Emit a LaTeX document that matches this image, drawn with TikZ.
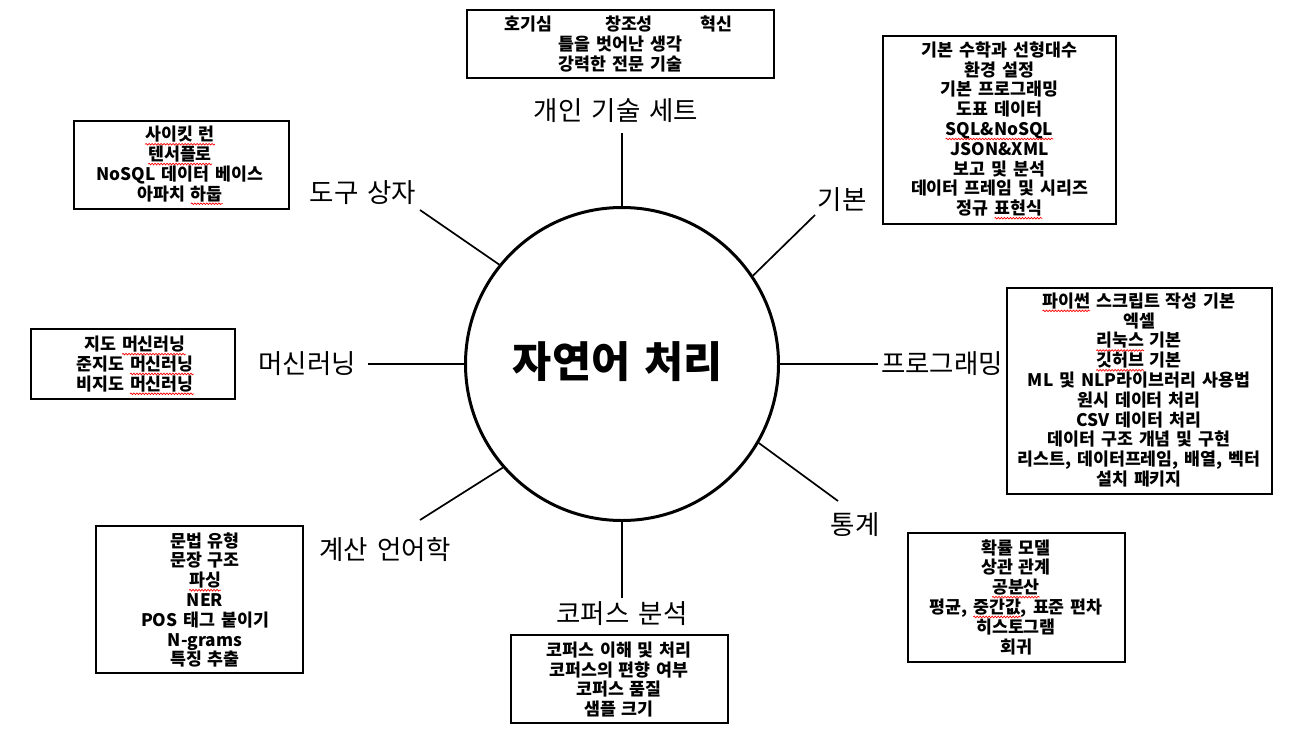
\documentclass[tikz,border=0pt]{standalone}
\usepackage{fontspec}
\setmainfont[WordSpace=1.5]{Noto Sans CJK KR}
\usetikzlibrary{decorations.pathmorphing}
\newcommand\sq[1]{\tikz[baseline=(w.base),x=1pt,y=1pt]{\node[inner sep=0pt,outer sep=0pt,align=left] (w) {#1};
  \draw[overlay, red, line width=0.7pt, decorate, decoration={snake, amplitude=0.8pt, segment length=3pt}] ([yshift=-3.5pt]w.base west) -- ([yshift=-3.5pt]w.base east);}}
\tikzset{
  box/.style={draw, line width=1.2pt, inner sep=0pt},
  btext/.style={font=\fontsize{17.3}{19.8}\selectfont\bfseries, align=center, inner sep=0pt},
  lbl/.style={font=\fontsize{26.5}{30}\selectfont, inner sep=0pt},
  spoke/.style={line width=1.7pt},
}
\begin{document}
\begin{tikzpicture}[x=1pt,y=-1pt]
\useasboundingbox[fill=white] (0,0) rectangle (1298,731);

% central circle
\node[draw, circle, line width=3pt, minimum size=313pt, inner sep=0pt] (c) at (622,364) {};
\node[font=\fontsize{42.5}{48}\selectfont\bfseries, inner sep=0pt] (ctext) at (618,362) {자연어 처리};

% category labels
\node[lbl] (l1) at (616,111) {개인 기술 세트};
\node[lbl] (l2) at (842,200) {기본};
\node[lbl] (l3) at (942,364) {프로그래밍};
\node[lbl] (l4) at (855,525) {통계};
\node[lbl] (l5) at (622,614) {코퍼스 분석};
\node[lbl] (l6) at (385,550) {계산 언어학};
\node[lbl] (l7) at (307,364) {머신러닝};
\node[lbl] (l8) at (363,193) {도구 상자};

% spoke ends
\coordinate (e1) at (622,133);
\coordinate (e2) at (815,215);
\coordinate (e3) at (878,364);
\coordinate (e4) at (838,501);
\coordinate (e5) at (622,598);
\coordinate (e6) at (420,520);
\coordinate (e7) at (368,364);
\coordinate (e8) at (420,210);

\draw[spoke] (c.90) -- (e1);
\draw[spoke] (c.34.4) -- (e2);
\draw[spoke] (c.0) -- (e3);
\draw[spoke] (c.-30.7) -- (e4);
\draw[spoke] (c.-90) -- (e5);
\draw[spoke] (c.221.4) -- (e6);
\draw[spoke] (c.180) -- (e7);
\draw[spoke] (c.141) -- (e8);

% boxes
\node[box, minimum width=307pt, minimum height=68pt] (b1) at (620.5,44) {};
\node[btext] (t1) at (620.5,44) {\hspace*{-4pt}호기심\hspace{53pt}창조성\hspace{48pt}혁신\\틀을 벗어난 생각\\강력한 전문 기술};

\node[box, minimum width=233pt, minimum height=188pt] (b2) at (999.5,130) {};
\node[btext] (t2) at (999.5,129) {기본 수학과 선형대수\\환경 설정\\기본 프로그래밍\\도표 데이터\\\sq{SQL\&NoSQL}\\JSON\&XML\\보고 및 분석\\데이터 프레임 및 시리즈\\정규 \sq{표현식}};

\node[box, minimum width=215pt, minimum height=88pt] (b3) at (181.5,165) {};
\node[btext] (t3) at (180,164) {\sq{사이킷 런}\\\sq{텐서플로}\\NoSQL 데이터 베이스\\아파치 \sq{하둡}};

\node[box, minimum width=265pt, minimum height=206pt] (b4) at (1139.5,391) {};
\node[btext] (t4) at (1139,390) {\sq{파이썬} 스크립트 작성 기본\\엑셀\\\sq{리눅스} 기본\\\sq{깃허브} 기본\\ML 및 NLP라이브러리 사용법\\원시 데이터 처리\\CSV 데이터 처리\\데이터 구조 개념 및 구현\\리스트, 데이터프레임, 배열, 벡터\\설치 패키지};

\node[box, minimum width=204pt, minimum height=70pt] (b5) at (133,364) {};
\node[btext] (t5) at (135,364) {지도 \sq{머신러닝}\\준지도 \sq{머신러닝}\\비지도 \sq{머신러닝}};

\node[box, minimum width=207pt, minimum height=147pt] (b6) at (199.5,599.5) {};
\node[btext] (t6) at (205,600) {문법 유형\\문장 구조\\\sq{파싱}\\NER\\POS 태그 붙이기\\N-grams\\특징 추출};

\node[box, minimum width=217pt, minimum height=88pt] (b7) at (619.5,679) {};
\node[btext] (t7) at (619,679.5) {코퍼스 이해 및 처리\\코퍼스의 편향 여부\\코퍼스 품질\\샘플 크기};

\node[box, minimum width=217pt, minimum height=129pt] (b8) at (1016.5,597.5) {};
\node[btext] (t8) at (1016,597) {확률 모델\\상관 관계\\\sq{공분산}\\평균, \sq{중간값}, 표준 편차\\히스토그램\\회귀};
\end{tikzpicture}
\end{document}
